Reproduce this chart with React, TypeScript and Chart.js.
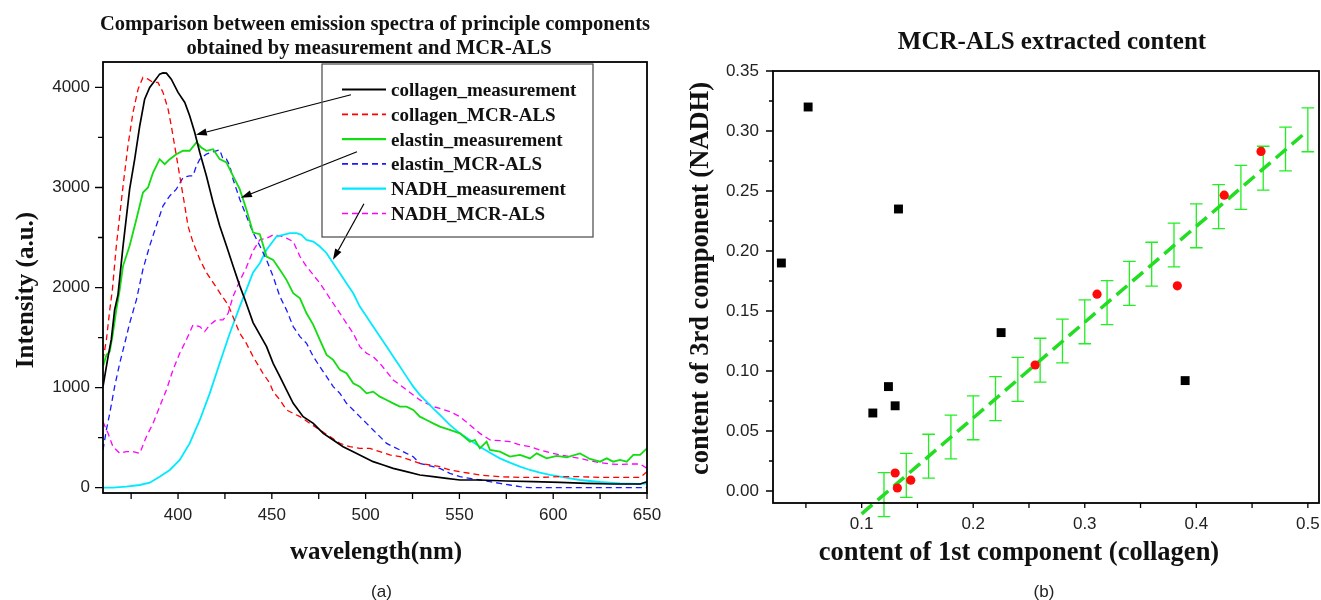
import React, { useEffect, useRef } from "react";
import { Chart, registerables } from "chart.js";

Chart.register(...registerables);

const W = 1321;
const H = 600;
const RW = 1360; // right canvas is wider; the overflow is clipped by the container
const SERIF = '"Liberation Serif", "Times New Roman", Times, serif';
const SANS = '"Liberation Sans", Arial, Helvetica, sans-serif';

// ---------------- Panel (a): emission spectra ----------------
const seriesLabels = [
  "collagen_measurement",
  "collagen_MCR-ALS",
  "elastin_measurement",
  "elastin_MCR-ALS",
  "NADH_measurement",
  "NADH_MCR-ALS",
];

const collagenMeasWl = [360, 362.7, 364.4, 366.2, 368, 370.7, 374.2, 376.9, 379.6, 382.2, 384.9, 387.6, 390.2, 392, 393.8, 396.4, 400, 403.6, 406.2, 408.9, 411.6, 415.1, 418.7, 422.2, 425.8, 429.3, 432.9, 435.6, 440, 443.6, 447.2, 450.7, 454.3, 457.8, 461.4, 466.7, 472.1, 477.4, 482.7, 488, 493.4, 498.7, 504, 509.4, 514.7, 521.8, 528.9, 536, 543.2, 550.3, 560.9, 575.2, 589.4, 603.6, 617.8, 632, 646.3, 650];
const collagenMeasI = [1010, 1310, 1477, 1777, 1930, 2417, 2983, 3283, 3617, 3883, 4000, 4067, 4133, 4145, 4143, 4083, 3950, 3850, 3717, 3550, 3350, 3117, 2850, 2617, 2417, 2217, 2017, 1883, 1650, 1530, 1410, 1243, 1110, 977, 843, 710, 643, 543, 477, 410, 360, 310, 260, 227, 193, 160, 127, 110, 93, 77, 77, 67, 60, 53, 43, 37, 37, 60];

const collagenMcrWl = [360, 361.8, 363.6, 365, 367.1, 370.7, 373.3, 376, 378.7, 381.3, 384, 386.7, 389.3, 392, 394.7, 396.4, 398.2, 400, 401.8, 403.6, 405.3, 408, 411.6, 415.1, 418.7, 422.2, 426.7, 432.9, 436.4, 440, 445.3, 448.9, 450.7, 454.3, 457.8, 461.4, 465, 470.3, 475.6, 481, 486.3, 491.6, 496.9, 502.3, 507.6, 512.9, 518.3, 523.6, 528.9, 534.3, 539.6, 544.9, 550.3, 560.9, 571.6, 582.3, 592.9, 603.6, 614.3, 624.9, 635.6, 646.3, 650];
const collagenMcrI = [1277, 1477, 1777, 1977, 2417, 3017, 3417, 3750, 3983, 4100, 4083, 4050, 4050, 3950, 3783, 3617, 3417, 3217, 3017, 2817, 2617, 2450, 2283, 2150, 2050, 1950, 1827, 1543, 1443, 1310, 1143, 1043, 960, 877, 777, 743, 710, 643, 577, 510, 443, 410, 393, 393, 360, 327, 310, 277, 243, 227, 210, 177, 160, 127, 110, 103, 103, 110, 110, 103, 103, 103, 160];

const elastinMeasWl = [360, 361.8, 363.6, 365.3, 367.1, 368.9, 370.7, 374.2, 377.8, 381.3, 384, 386.7, 390.2, 392.9, 395.6, 399.1, 402.7, 406.2, 409.8, 412.4, 415.1, 418.7, 422.2, 425.8, 429.3, 432.9, 436.4, 440, 443.6, 447.2, 450.7, 454.3, 457.8, 461.4, 465, 468.5, 472.1, 475.6, 479.2, 482.7, 486.3, 489.8, 493.4, 496.9, 500.5, 504, 507.6, 511.2, 514.7, 518.3, 521.8, 525.4, 528.9, 532.5, 536, 539.6, 544.9, 550.3, 555.6, 558.3, 560.9, 564.5, 566.3, 571.6, 576.9, 582.3, 587.6, 591.2, 596.5, 601.9, 607.2, 614.3, 619.6, 625, 628.5, 632, 635.6, 639.2, 642.7, 646.3, 650];
const elastinMeasI = [1210, 1327, 1360, 1543, 1777, 1977, 2217, 2417, 2683, 2950, 3000, 3150, 3283, 3233, 3283, 3333, 3367, 3367, 3450, 3400, 3367, 3383, 3283, 3250, 3117, 2983, 2783, 2550, 2533, 2310, 2277, 2177, 2077, 1943, 1893, 1743, 1627, 1477, 1327, 1277, 1177, 1143, 1043, 1010, 943, 960, 910, 877, 843, 810, 810, 777, 710, 677, 643, 610, 577, 543, 460, 477, 393, 460, 377, 360, 310, 327, 293, 343, 293, 317, 303, 343, 287, 260, 293, 260, 277, 260, 327, 327, 393];

const elastinMcrWl = [360, 361.8, 363.6, 366.2, 368.9, 371.6, 374.2, 377.8, 381.3, 384.9, 388.4, 392, 395.6, 399.1, 402.7, 406.2, 408, 409.8, 411.6, 415.1, 418.7, 422.2, 424, 425.8, 427.6, 429.3, 432.9, 436.4, 440, 443.6, 447.2, 450.7, 454.3, 457.8, 461.4, 465, 468.5, 472.1, 475.6, 479.2, 482.7, 486.3, 489.8, 493.4, 496.9, 500.5, 504, 507.6, 511.2, 514.7, 518.3, 521.8, 525.4, 528.9, 532.5, 536, 539.6, 544.9, 550.3, 555.6, 560.9, 566.3, 571.6, 576.9, 582.3, 587.6, 650];
const elastinMcrI = [377, 577, 743, 1010, 1243, 1443, 1643, 1877, 2183, 2417, 2617, 2817, 2917, 2983, 3100, 3117, 3117, 3217, 3283, 3333, 3357, 3377, 3283, 3283, 3217, 3083, 2883, 2717, 2550, 2417, 2277, 2110, 1910, 1777, 1610, 1510, 1443, 1310, 1210, 1110, 1010, 943, 843, 777, 710, 643, 577, 510, 443, 410, 377, 343, 310, 243, 227, 210, 193, 143, 110, 93, 77, 60, 43, 27, 10, 0, 0];

const nadhMeasWl = [360, 365.3, 372.4, 379.6, 384.9, 390.2, 395.6, 400.9, 406.2, 411.6, 416.9, 422.2, 427.6, 432.9, 436.4, 440, 443.6, 447.2, 449.8, 452.5, 456, 459.6, 463.2, 465.8, 468.5, 472.1, 475.6, 479.2, 482.7, 486.3, 489.8, 493.4, 496.9, 500.5, 504, 507.6, 511.2, 514.7, 518.3, 521.8, 525.4, 528.9, 532.5, 536, 539.6, 544.9, 550.3, 555.6, 560.9, 566.3, 571.6, 576.9, 582.3, 587.6, 592.9, 598.3, 603.6, 608.9, 614.3, 619.6, 625, 630.3, 635.6, 640.9, 646.3, 650];
const nadhMeasI = [0, 0, 10, 27, 50, 110, 177, 277, 443, 677, 943, 1243, 1543, 1810, 1977, 2150, 2243, 2377, 2443, 2510, 2527, 2543, 2543, 2527, 2477, 2460, 2410, 2343, 2243, 2143, 2043, 1943, 1810, 1710, 1610, 1510, 1410, 1310, 1210, 1110, 1010, 927, 860, 793, 727, 627, 543, 477, 410, 350, 293, 250, 210, 177, 150, 127, 110, 93, 77, 67, 57, 50, 43, 40, 37, 43];

const nadhMcrWl = [360, 362.7, 365.3, 368.9, 372.4, 376, 379.6, 383.1, 386.7, 390.2, 393.8, 397.3, 400.9, 404.4, 408, 411.6, 414.2, 416.9, 420.4, 424, 426.7, 429.3, 432.9, 436.4, 440, 443.6, 447.2, 450.7, 454.3, 457.8, 461.4, 465, 468.5, 472.1, 475.6, 479.2, 482.7, 486.3, 489.8, 493.4, 496.9, 500.5, 504, 507.6, 511.2, 514.7, 518.3, 521.8, 525.4, 528.9, 532.5, 536, 539.6, 544.9, 550.3, 555.6, 560.9, 566.3, 571.6, 576.9, 582.3, 587.6, 592.9, 598.3, 603.6, 608.9, 614.3, 619.6, 625, 630.3, 635.6, 640.9, 646.3, 650];
const nadhMcrI = [660, 543, 410, 343, 360, 360, 343, 510, 643, 810, 977, 1177, 1343, 1477, 1627, 1610, 1560, 1627, 1677, 1677, 1743, 1910, 2067, 2200, 2367, 2477, 2493, 2527, 2517, 2493, 2460, 2310, 2210, 2127, 2043, 1943, 1843, 1743, 1643, 1543, 1410, 1343, 1310, 1243, 1160, 1077, 1027, 977, 927, 877, 843, 810, 793, 760, 710, 627, 543, 477, 470, 460, 427, 410, 377, 350, 327, 310, 293, 270, 250, 237, 233, 237, 237, 193];

const xTicksA = [400, 450, 500, 550, 600, 650];
const xMinorA = [375, 425, 475, 525, 575, 625];
const yTicksA = [0, 1000, 2000, 3000, 4000];
const yMinorA = [500, 1500, 2500, 3500];

// annotation arrows (data units)
const arrowFromWl = [492.2, 495.4, 499.1];
const arrowFromI = [3927, 3357, 2837];
const arrowToWl = [409.5, 433.5, 482.6];
const arrowToI = [3527, 2897, 2277];

// ---------------- Panel (b): MCR-ALS extracted content ----------------
const otherX = [0.028, 0.052, 0.133, 0.225, 0.124, 0.13, 0.11, 0.39];
const otherY = [0.19, 0.32, 0.235, 0.132, 0.087, 0.071, 0.065, 0.092];
const sampleX = [0.311, 0.383, 0.425, 0.458, 0.2555, 0.13, 0.132, 0.144];
const sampleY = [0.164, 0.171, 0.2465, 0.283, 0.105, 0.015, 0.0025, 0.009];
const fitLineX = [0.1, 0.497];
const fitLineY = [-0.019, 0.298];
const errX = [0.12, 0.14, 0.16, 0.18, 0.2, 0.22, 0.24, 0.26, 0.28, 0.3, 0.32, 0.34, 0.36, 0.38, 0.4, 0.42, 0.44, 0.46, 0.48, 0.5];
const errY = [-0.003, 0.013, 0.029, 0.045, 0.061, 0.077, 0.093, 0.109, 0.125, 0.141, 0.157, 0.173, 0.189, 0.205, 0.221, 0.237, 0.253, 0.269, 0.285, 0.301];
const errHalf = [0.0183, 0.0183, 0.0183, 0.0183, 0.0183, 0.0183, 0.0183, 0.0183, 0.0183, 0.0183, 0.0183, 0.0183, 0.0183, 0.0183, 0.0183, 0.0183, 0.0183, 0.0183, 0.0183, 0.0183];

const xTicksB = [0.1, 0.2, 0.3, 0.4, 0.5];
const xMinorB = [0.05, 0.15, 0.25, 0.35, 0.45];
const yTicksB = [0, 0.05, 0.1, 0.15, 0.2, 0.25, 0.3, 0.35];
const yMinorB = [0.025, 0.075, 0.125, 0.175, 0.225, 0.275, 0.325];

// ---------------- helpers ----------------
type Txt = { text: string; x: number; y: number; font: string; rot?: boolean; baseline?: CanvasTextBaseline; color?: string };

function drawTexts(ctx: CanvasRenderingContext2D, list: Txt[]) {
  for (const t of list) {
    ctx.save();
    ctx.font = t.font;
    ctx.fillStyle = t.color || "#111";
    ctx.textAlign = "center";
    ctx.textBaseline = t.baseline || "alphabetic";
    ctx.translate(t.x, t.y);
    if (t.rot) ctx.rotate(-Math.PI / 2);
    ctx.fillText(t.text, 0, 0);
    ctx.restore();
  }
}

type AxisDeco = {
  xMajor: number[]; xMinor: number[]; yMajor: number[]; yMinor: number[];
  xMajorLen: number; xMinorLen: number; yMajorLen: number; yMinorLen: number; frame: number;
};

function drawAxes(chart: any, o: AxisDeco) {
  const { ctx, chartArea: a } = chart;
  const xs = chart.scales.x;
  const ys = chart.scales.y;
  ctx.save();
  ctx.strokeStyle = "#000";
  ctx.lineWidth = 1.3;
  ctx.beginPath();
  o.xMajor.forEach((v) => { const p = xs.getPixelForValue(v); ctx.moveTo(p, a.bottom); ctx.lineTo(p, a.bottom + o.xMajorLen); });
  o.xMinor.forEach((v) => { const p = xs.getPixelForValue(v); ctx.moveTo(p, a.bottom); ctx.lineTo(p, a.bottom + o.xMinorLen); });
  o.yMajor.forEach((v) => { const p = ys.getPixelForValue(v); ctx.moveTo(a.left, p); ctx.lineTo(a.left - o.yMajorLen, p); });
  o.yMinor.forEach((v) => { const p = ys.getPixelForValue(v); ctx.moveTo(a.left, p); ctx.lineTo(a.left - o.yMinorLen, p); });
  ctx.stroke();
  ctx.lineWidth = o.frame;
  ctx.strokeRect(a.left, a.top, a.right - a.left, a.bottom - a.top);
  ctx.restore();
}

function tickFont() {
  return { family: SANS, size: 17 };
}

// ---------------- chart configs ----------------
function leftConfig(): any {
  const series = [
    { wl: collagenMeasWl, v: collagenMeasI, color: "#000000", width: 1.7, dash: [] as number[] },
    { wl: collagenMcrWl, v: collagenMcrI, color: "#ff0000", width: 1.3, dash: [6, 4] },
    { wl: elastinMeasWl, v: elastinMeasI, color: "#11dd11", width: 1.8, dash: [] as number[] },
    { wl: elastinMcrWl, v: elastinMcrI, color: "#1a1aff", width: 1.3, dash: [6, 4] },
    { wl: nadhMeasWl, v: nadhMeasI, color: "#00eaff", width: 1.8, dash: [] as number[] },
    { wl: nadhMcrWl, v: nadhMcrI, color: "#ff00ff", width: 1.3, dash: [6, 4] },
  ];
  const datasets = series.map((s, k) => ({
    label: seriesLabels[k],
    data: s.wl.slice(0, Math.min(s.wl.length, s.v.length)).map((w, i) => ({ x: w, y: s.v[i] })),
    borderColor: s.color,
    borderWidth: s.width,
    borderDash: s.dash,
    pointRadius: 0,
    fill: false,
    tension: 0,
  }));

  const decor = {
    id: "decorA",
    afterDraw(chart: any) {
      const ctx: CanvasRenderingContext2D = chart.ctx;
      drawAxes(chart, {
        xMajor: xTicksA, xMinor: xMinorA, yMajor: yTicksA, yMinor: yMinorA,
        xMajorLen: 6, xMinorLen: 6, yMajorLen: 8, yMinorLen: 5, frame: 1.8,
      });
      const xs = chart.scales.x;
      const ys = chart.scales.y;
      // arrows
      ctx.save();
      ctx.strokeStyle = "#000";
      ctx.fillStyle = "#000";
      ctx.lineWidth = 1.2;
      for (let i = 0; i < arrowFromWl.length; i++) {
        const x1 = xs.getPixelForValue(arrowFromWl[i]);
        const y1 = ys.getPixelForValue(arrowFromI[i]);
        const x2 = xs.getPixelForValue(arrowToWl[i]);
        const y2 = ys.getPixelForValue(arrowToI[i]);
        const ang = Math.atan2(y2 - y1, x2 - x1);
        const hl = 11, hw = 3.6;
        const bx = x2 - hl * Math.cos(ang);
        const by = y2 - hl * Math.sin(ang);
        ctx.beginPath();
        ctx.moveTo(x1, y1);
        ctx.lineTo(bx, by);
        ctx.stroke();
        ctx.beginPath();
        ctx.moveTo(x2, y2);
        ctx.lineTo(bx + hw * Math.sin(ang), by - hw * Math.cos(ang));
        ctx.lineTo(bx - hw * Math.sin(ang), by + hw * Math.cos(ang));
        ctx.closePath();
        ctx.fill();
      }
      ctx.restore();
      // legend box
      ctx.save();
      ctx.strokeStyle = "#555";
      ctx.lineWidth = 1.3;
      ctx.strokeRect(322, 64, 271, 173);
      chart.data.datasets.forEach((ds: any, i: number) => {
        const y = 89.5 + i * 24.8;
        ctx.save();
        ctx.strokeStyle = ds.borderColor;
        ctx.lineWidth = ds.borderWidth + 0.4;
        ctx.setLineDash(ds.borderDash || []);
        ctx.beginPath();
        ctx.moveTo(342, y);
        ctx.lineTo(386, y);
        ctx.stroke();
        ctx.restore();
        ctx.font = `bold 19px ${SERIF}`;
        ctx.fillStyle = "#111";
        ctx.textAlign = "left";
        ctx.textBaseline = "alphabetic";
        ctx.fillText(ds.label, 391, y + 6.5);
      });
      ctx.restore();
      drawTexts(ctx, [
        { text: "Comparison between emission spectra of principle components", x: 375, y: 30, font: `bold 20.5px ${SERIF}` },
        { text: "obtained by measurement and MCR-ALS", x: 369, y: 54, font: `bold 20.5px ${SERIF}` },
        { text: "wavelength(nm)", x: 376, y: 559, font: `bold 25px ${SERIF}` },
        { text: "Intensity (a.u.)", x: 33, y: 290, font: `bold 25px ${SERIF}`, rot: true },
        { text: "(a)", x: 381.5, y: 592, font: `17px ${SANS}`, baseline: "middle", color: "#222" },
      ]);
    },
  };

  return {
    type: "line",
    data: { datasets },
    options: {
      responsive: false,
      animation: false,
      devicePixelRatio: 1,
      layout: { padding: { left: 0, top: 62, right: W - 647, bottom: 0 }, autoPadding: false },
      plugins: { legend: { display: false }, title: { display: false }, tooltip: { enabled: false } },
      events: [],
      scales: {
        x: {
          type: "linear",
          min: 360,
          max: 650,
          afterBuildTicks: (s: any) => { s.ticks = xTicksA.map((v) => ({ value: v })); },
          afterFit: (s: any) => { s.height = H - 493; },
          grid: { display: false, drawTicks: false },
          border: { display: false },
          ticks: { color: "#222", font: tickFont(), padding: 12, maxRotation: 0, minRotation: 0, autoSkip: false, callback: (v: any) => String(v) },
        },
        y: {
          type: "linear",
          min: -53,
          max: 4254,
          afterBuildTicks: (s: any) => { s.ticks = yTicksA.map((v) => ({ value: v })); },
          afterFit: (s: any) => { s.width = 103; },
          grid: { display: false, drawTicks: false },
          border: { display: false },
          ticks: { color: "#222", font: tickFont(), padding: 13, autoSkip: false, callback: (v: any) => String(v) },
        },
      },
    },
    plugins: [decor],
  };
}

function rightConfig(): any {
  const errPlugin = {
    id: "errB",
    beforeDatasetsDraw(chart: any) {
      const ctx: CanvasRenderingContext2D = chart.ctx;
      const xs = chart.scales.x;
      const ys = chart.scales.y;
      ctx.save();
      ctx.strokeStyle = "#22ee22";
      ctx.lineWidth = 1.3;
      ctx.beginPath();
      for (let i = 0; i < errX.length; i++) {
        const px = xs.getPixelForValue(errX[i]);
        const top = ys.getPixelForValue(errY[i] + errHalf[i]);
        const bot = ys.getPixelForValue(errY[i] - errHalf[i]);
        const cap = 6.3;
        ctx.moveTo(px, top);
        ctx.lineTo(px, bot);
        ctx.moveTo(px - cap, top);
        ctx.lineTo(px + cap, top);
        ctx.moveTo(px - cap, bot);
        ctx.lineTo(px + cap, bot);
      }
      ctx.stroke();
      ctx.restore();
    },
    afterDraw(chart: any) {
      drawAxes(chart, {
        xMajor: xTicksB, xMinor: xMinorB, yMajor: yTicksB, yMinor: yMinorB,
        xMajorLen: 5, xMinorLen: 5, yMajorLen: 7, yMinorLen: 4, frame: 1.8,
      });
      drawTexts(chart.ctx, [
        { text: "MCR-ALS extracted content", x: 1052, y: 49, font: `bold 25px ${SERIF}` },
        { text: "content of 1st component (collagen)", x: 1019, y: 560, font: `bold 26.5px ${SERIF}` },
        { text: "content of 3rd component (NADH)", x: 708, y: 278.5, font: `bold 26.5px ${SERIF}`, rot: true },
        { text: "(b)", x: 1044, y: 592, font: `17px ${SANS}`, baseline: "middle", color: "#222" },
      ]);
    },
  };

  return {
    type: "scatter",
    data: {
      datasets: [
        {
          label: "other samples",
          data: otherX.map((x, i) => ({ x, y: otherY[i] })),
          pointStyle: "rect",
          pointRadius: 6.3,
          backgroundColor: "#000",
          borderWidth: 0,
          showLine: false,
        },
        {
          label: "fitted samples",
          data: sampleX.map((x, i) => ({ x, y: sampleY[i] })),
          pointStyle: "circle",
          pointRadius: 4.6,
          backgroundColor: "#ff0a0a",
          borderWidth: 0,
          showLine: false,
        },
        {
          label: "linear fit",
          type: "line",
          data: fitLineX.map((x, i) => ({ x, y: fitLineY[i] })),
          borderColor: "#22dd22",
          borderWidth: 3.5,
          borderDash: [14, 7],
          pointRadius: 0,
          showLine: true,
          fill: false,
          clip: false,
        },
      ],
    },
    options: {
      responsive: false,
      animation: false,
      devicePixelRatio: 1,
      layout: { padding: { left: 673, top: 71, right: RW - 1319, bottom: 0 }, autoPadding: false },
      plugins: { legend: { display: false }, title: { display: false }, tooltip: { enabled: false } },
      events: [],
      scales: {
        x: {
          type: "linear",
          min: 0.0205,
          max: 0.51,
          afterBuildTicks: (s: any) => { s.ticks = xTicksB.map((v) => ({ value: v })); },
          afterFit: (s: any) => { s.height = H - 503; },
          grid: { display: false, drawTicks: false },
          border: { display: false },
          ticks: { color: "#222", font: tickFont(), padding: 11.5, maxRotation: 0, minRotation: 0, autoSkip: false, callback: (v: any) => Number(v).toFixed(1) },
        },
        y: {
          type: "linear",
          min: -0.01,
          max: 0.35,
          afterBuildTicks: (s: any) => { s.ticks = yTicksB.map((v) => ({ value: v })); },
          afterFit: (s: any) => { s.width = 100; },
          grid: { display: false, drawTicks: false },
          border: { display: false },
          ticks: { color: "#222", font: tickFont(), padding: 14, autoSkip: false, callback: (v: any) => Number(v).toFixed(2) },
        },
      },
    },
    plugins: [errPlugin],
  };
}

export default function App() {
  const leftRef = useRef<HTMLCanvasElement>(null);
  const rightRef = useRef<HTMLCanvasElement>(null);

  useEffect(() => {
    const c1 = new Chart(leftRef.current as HTMLCanvasElement, leftConfig());
    const c2 = new Chart(rightRef.current as HTMLCanvasElement, rightConfig());
    return () => {
      c1.destroy();
      c2.destroy();
    };
  }, []);

  return (
    <div style={{ position: "absolute", left: 0, top: 0, width: W, height: H, background: "#fff", overflow: "hidden" }}>
      <canvas ref={leftRef} width={W} height={H} style={{ position: "absolute", left: 0, top: 0 }} />
      <canvas ref={rightRef} width={RW} height={H} style={{ position: "absolute", left: 0, top: 0 }} />
    </div>
  );
}
